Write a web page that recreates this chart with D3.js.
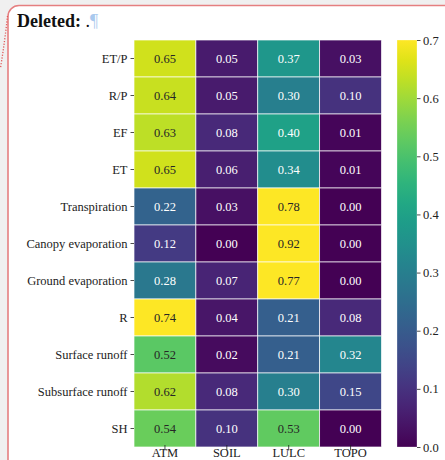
<!DOCTYPE html>
<html>
<head>
<meta charset="utf-8">
<script src="https://cdn.jsdelivr.net/npm/d3@7"></script>
<style>
  html, body { margin: 0; padding: 0; background: #f0f0f0; }
  svg { display: block; }
</style>
</head>
<body>
<svg id="fig" width="445" height="460"></svg>
<script>
// Attribution of hydrological variables to driver groups
const drivers = ["ATM", "SOIL", "LULC", "TOPO"];
const variables = ["ET/P", "R/P", "EF", "ET", "Transpiration", "Canopy evaporation",
  "Ground evaporation", "R", "Surface runoff", "Subsurface runoff", "SH"];
const atm  = [0.65, 0.64, 0.63, 0.65, 0.22, 0.12, 0.28, 0.74, 0.52, 0.62, 0.54];
const soil = [0.05, 0.05, 0.08, 0.06, 0.03, 0.00, 0.07, 0.04, 0.02, 0.08, 0.10];
const lulc = [0.37, 0.30, 0.40, 0.34, 0.78, 0.92, 0.77, 0.21, 0.21, 0.30, 0.53];
const topo = [0.03, 0.10, 0.01, 0.01, 0.00, 0.00, 0.00, 0.08, 0.32, 0.15, 0.00];
const colorTicks = [0.0, 0.1, 0.2, 0.3, 0.4, 0.5, 0.6, 0.7];

const series = [atm, soil, lulc, topo];
const cells = [];
variables.forEach((v, i) => drivers.forEach((d, j) => cells.push({ v, d, value: series[j][i] })));

const svg = d3.select("#fig");
const serif = "Liberation Serif, Times New Roman, serif";

// Page frame with tracked-change border
svg.append("rect").attr("x", 8).attr("y", 5.5).attr("width", 460).attr("height", 480)
  .attr("rx", 11).attr("fill", "#ffffff").attr("stroke", "#e57f80").attr("stroke-width", 1.6);
svg.append("path").attr("d", "M7.5,16 Q5,40 0.5,68")
  .attr("fill", "none").attr("stroke", "#e05a5a").attr("stroke-width", 1.3)
  .attr("stroke-dasharray", "1.2,1.6");

const title = svg.append("text").attr("x", 17).attr("y", 27)
  .attr("font-family", serif).attr("font-size", 18).attr("fill", "#111");
title.append("tspan").attr("font-weight", "bold").text("Deleted:");
title.append("tspan").text(" .");
title.append("tspan").attr("fill", "#a9c9ee").text("¶");

// Heatmap
const plotLeft = 134, plotRight = 381.5, plotTop = 40, plotBottom = 447;
const x = d3.scaleBand().domain(drivers).range([plotLeft, plotRight]);
const y = d3.scaleBand().domain(variables).range([plotTop, plotBottom]);
const vmax = 0.7;
const color = d3.scaleSequential(d3.interpolateViridis).domain([0, vmax]).clamp(true);

function textColor(c) {
  const rgb = d3.rgb(c);
  const lin = t => { t /= 255; return t <= 0.03928 ? t / 12.92 : Math.pow((t + 0.055) / 1.055, 2.4); };
  const L = 0.2126 * lin(rgb.r) + 0.7152 * lin(rgb.g) + 0.0722 * lin(rgb.b);
  return L > 0.408 ? "#262626" : "#ffffff";
}

svg.append("g").selectAll("rect").data(cells).join("rect")
  .attr("x", d => x(d.d)).attr("y", d => y(d.v))
  .attr("width", x.bandwidth()).attr("height", y.bandwidth())
  .attr("fill", d => color(d.value))
  .attr("stroke", "rgba(255,255,255,0.85)").attr("stroke-width", 0.8);

svg.append("g").selectAll("text").data(cells).join("text")
  .attr("x", d => x(d.d) + x.bandwidth() / 2)
  .attr("y", d => y(d.v) + y.bandwidth() / 2)
  .attr("dy", "0.35em").attr("text-anchor", "middle")
  .attr("font-family", serif).attr("font-size", 12.5)
  .attr("fill", d => textColor(color(d.value)))
  .text(d => d.value.toFixed(2));

// Axes
const yAxis = svg.append("g").attr("transform", `translate(${plotLeft},0)`)
  .call(d3.axisLeft(y).tickSize(3.5).tickPadding(3));
const xAxis = svg.append("g").attr("transform", `translate(0,${plotBottom})`)
  .call(d3.axisBottom(x).tickSize(3.5).tickPadding(2));
[yAxis, xAxis].forEach(g => {
  g.select(".domain").remove();
  g.selectAll(".tick line").attr("stroke", "#222").attr("stroke-width", 0.8);
  g.selectAll(".tick text").attr("font-family", serif).attr("font-size", 12.5).attr("fill", "#222");
});
xAxis.selectAll(".tick line").attr("y1", -2);
xAxis.selectAll(".tick text").attr("y", 9.8).attr("dy", 0);

// Colorbar
const cbX = 397, cbW = 20;
const cy = d3.scaleLinear().domain([0, vmax]).range([plotBottom, plotTop]);
const defs = svg.append("defs");
const grad = defs.append("linearGradient").attr("id", "cbar")
  .attr("x1", 0).attr("y1", 1).attr("x2", 0).attr("y2", 0);
d3.range(0, 1.0001, 0.05).forEach(t => grad.append("stop")
  .attr("offset", t).attr("stop-color", d3.interpolateViridis(t)));
svg.append("rect").attr("x", cbX).attr("y", plotTop).attr("width", cbW).attr("height", plotBottom - plotTop)
  .attr("fill", "url(#cbar)").attr("stroke", "rgba(255,255,255,0.5)").attr("stroke-width", 0.6);
const cAxis = svg.append("g").attr("transform", `translate(${cbX + cbW},0)`)
  .call(d3.axisRight(cy).tickValues(colorTicks).tickFormat(d3.format(".1f")).tickSize(3.5).tickPadding(2.5));
cAxis.select(".domain").remove();
cAxis.selectAll(".tick line").attr("stroke", "#222").attr("stroke-width", 0.8);
cAxis.selectAll(".tick text").attr("font-family", serif).attr("font-size", 12.5).attr("fill", "#222");
</script>
</body>
</html>
